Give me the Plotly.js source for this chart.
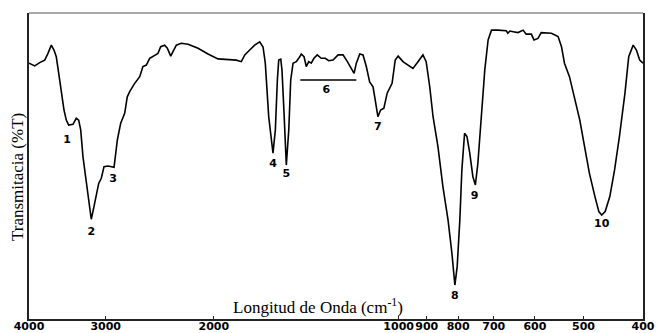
<!DOCTYPE html>
<html>
<head>
<meta charset="utf-8">
<script src="https://cdn.plot.ly/plotly-3.0.1.min.js"></script>
<style>html,body{margin:0;padding:0;background:#fff;}#chart{width:657px;height:333px;}</style>
</head>
<body>
<div id="chart"></div>
<script>
// Wavenumber (cm-1) and transmittance (%T, relative)
const wavenumber = [4000,3915,3843,3771,3725,3679,3642,3611,3578,3544,
  3508,3478,3447,3392,3350,3320,3295,3267,3227,3194,
  3167,3135,3108,3080,3050,3019,2974,2938,2908,2894,
  2872,2836,2794,2767,2742,2691,2641,2609,2576,2544,
  2497,2466,2441,2405,2381,2351,2331,2302,2260,2203,
  2122,2044,1969,1897,1838,1804,1781,1748,1716,1684,
  1663,1649,1637,1628,1602,1588,1576,1568,1556,1549,
  1537,1524,1510,1499,1486,1468,1449,1441,1426,1414,
  1401,1388,1374,1357,1337,1317,1300,1279,1255,1232,
  1212,1194,1182,1172,1157,1143,1129,1115,1101,1092,
  1081,1070,1057,1044,1025,1013,1002,984,948,930,
  913,902,890,879,863,847,831,819,810,803,
  795,789,781,774,766,757,750,743,734,724,
  715,706,689,668,664,659,651,639,627,620,
  608,602,593,586,564,550,543,537,527,517,
  507,498,489,479,472,467,461,453,445,437,
  428,422,415,410,405,400];
const transmittance = [83.6,82.7,83.8,84.6,86.8,89.5,87.9,85.7,80.3,73.8,
  68.3,65.0,63.4,63.6,65.6,65.0,61.8,53.0,45.4,37.8,
  32.6,36.7,41.1,44.3,46.0,49.8,50.0,49.8,49.6,53.0,
  58.5,64.0,67.2,72.6,74.3,77.0,79.2,82.5,83.0,85.2,
  86.3,86.8,89.0,89.5,88.5,85.9,87.4,89.5,90.1,89.8,
  88.5,86.6,85.0,84.9,84.6,84.1,86.3,87.9,89.5,90.6,
  88.9,83.6,74.8,66.1,54.2,61.8,78.1,84.6,84.9,81.4,
  67.2,50.3,61.8,78.1,83.6,84.1,85.7,86.6,85.7,82.5,
  84.1,83.6,85.2,86.3,85.2,85.2,84.4,84.6,86.3,86.3,
  84.1,81.9,80.3,83.6,86.6,86.3,82.5,77.5,75.9,71.6,
  66.1,68.3,68.9,73.8,77.0,84.6,85.9,84.1,81.9,84.1,
  86.3,84.1,75.9,66.1,56.3,43.2,32.4,21.5,11.1,17.1,
  32.4,48.7,60.7,59.6,54.2,46.5,43.8,50.9,65.0,81.4,
  91.2,94.4,94.4,94.2,93.4,94.1,93.9,93.6,94.4,93.1,
  93.1,91.2,91.7,93.6,93.4,92.3,89.0,83.6,79.2,72.6,
  65.0,56.3,47.6,40.0,35.1,34.0,35.1,40.0,48.7,59.6,
  73.8,85.7,89.5,87.9,84.6,83.6];

// Peak labels
const peakText = ["1","2","3","4","5","6","7","8","9","10"];
const peakWn = [3469,3167,2919,1602,1524,1312,1081,810,752,467];
const peakT = [58.5,28.4,45.8,50.7,47.4,74.9,62.7,7.3,40.2,31.0];

// Band 6 range marker
const band6Wn = [1446,1172];
const band6T = [78.1,78.1];

// Axis ticks
const tickValues = [4000,3000,2000,1000,900,800,700,600,500,400];
const tickLabels = ["4000","3000","2000","1000","900","800","700","600","500","400"];

const traces = [
  {x: wavenumber, y: transmittance, type: 'scatter', mode: 'lines',
   line: {color: '#000', width: 1.6}, hoverinfo: 'skip'},
  {x: band6Wn, y: band6T, type: 'scatter', mode: 'lines',
   line: {color: '#000', width: 1.5}, hoverinfo: 'skip'},
  {x: peakWn, y: peakT, text: peakText, type: 'scatter', mode: 'text',
   textposition: 'middle center',
   textfont: {family: 'DejaVu Sans', size: 11, color: '#000', weight: 'bold'}, hoverinfo: 'skip'}
];

const layout = {
  width: 657, height: 333,
  margin: {l: 29, r: 14, t: 13, b: 14, pad: 0},
  paper_bgcolor: '#fff', plot_bgcolor: '#fff',
  showlegend: false,
  xaxis: {
    type: 'log',
    range: [Math.log10(4000), Math.log10(400)],
    tickmode: 'array', tickvals: tickValues, ticktext: tickLabels,
    ticks: 'inside', ticklen: 3, tickwidth: 1, tickcolor: '#222',
    tickangle: 0,
    ticklabelstandoff: -4,
    tickfont: {family: 'DejaVu Sans', size: 11, color: '#000', weight: 'bold'},
    showgrid: false, zeroline: false,
    showline: true, linecolor: '#222', linewidth: 2, mirror: false
  },
  yaxis: {
    range: [0, 100],
    showticklabels: false, ticks: '',
    showgrid: false, zeroline: false,
    showline: true, linecolor: '#222', linewidth: 2, mirror: true
  },
  shapes: [
    {type: 'line', xref: 'paper', yref: 'paper', x0: 0, x1: 1, y0: 1, y1: 1,
     line: {color: '#555', width: 1}}
  ],
  annotations: [
    {text: 'Longitud de Onda (cm<sup>-1</sup>)', xref: 'paper', yref: 'paper',
     x: 0.4707, y: 0.0425, xanchor: 'center', yanchor: 'middle', showarrow: false,
     font: {family: 'Liberation Serif', size: 17, color: '#000'}},
    {text: 'Transmitacia (%T)', xref: 'paper', yref: 'paper',
     x: -0.0195, y: 0.464, xanchor: 'center', yanchor: 'middle', textangle: -90, showarrow: false,
     font: {family: 'Liberation Serif', size: 17, color: '#000'}}
  ]
};

Plotly.newPlot('chart', traces, layout, {displayModeBar: false, staticPlot: true});
</script>
</body>
</html>
